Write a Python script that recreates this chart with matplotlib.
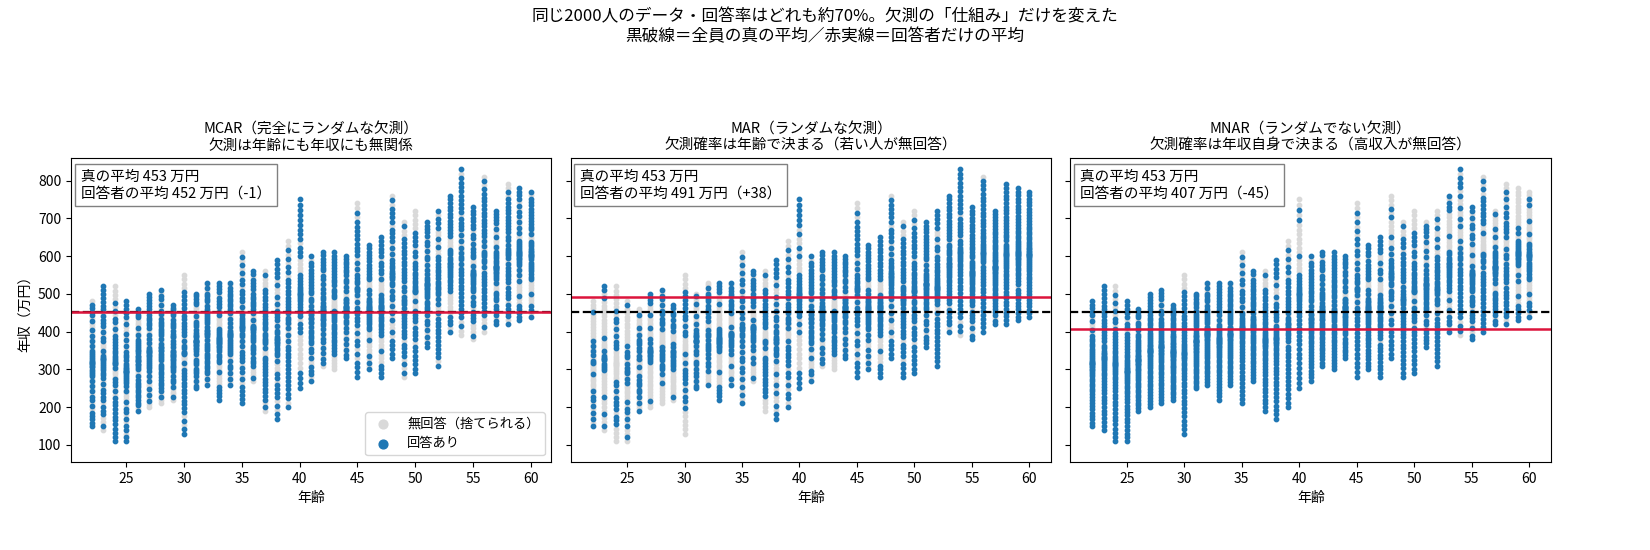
import matplotlib
matplotlib.use('Agg')
import matplotlib.pyplot as plt
import numpy as np

plt.rcParams['font.family'] = ['Noto Sans CJK JP', 'DejaVu Sans']

# ── データ（図から読み取った年齢ごとの年収の下限・上限）──
ages = list(range(22, 61))
income_low = [150, 140, 110, 110, 190, 200, 210, 220, 130, 250, 260, 220, 260, 210,
              270, 190, 170, 200, 250, 270, 310, 300, 330, 280, 300, 280, 330, 280,
              290, 360, 310, 400, 390, 380, 400, 420, 420, 430, 440]
income_high = [480, 520, 520, 480, 460, 500, 510, 470, 550, 500, 530, 530, 530, 610,
               560, 560, 590, 640, 750, 600, 610, 610, 600, 740, 630, 650, 760, 690,
               720, 690, 720, 760, 830, 730, 810, 720, 790, 780, 770]
n_per_age = 51

titles = ['MCAR（完全にランダムな欠測）\n欠測は年齢にも年収にも無関係',
          'MAR（ランダムな欠測）\n欠測確率は年齢で決まる（若い人が無回答）',
          'MNAR（ランダムでない欠測）\n欠測確率は年収自身で決まる（高収入が無回答）']
true_mean = 453
resp_means = [452, 491, 407]
diffs = ['-1', '+38', '-45']

# 点の配置（年齢ごとに下限〜上限へ並べる）
xs, ys, us = [], [], []
t = np.linspace(-1, 1, n_per_age)
t = np.sign(t) * np.abs(t) ** 1.4
for k, (a, lo, hi) in enumerate(zip(ages, income_low, income_high)):
    mid, half = (lo + hi) / 2, (hi - lo) / 2
    order = np.argsort((np.arange(n_per_age) * 0.618034 + k * 0.31) % 1)
    xs += [a] * n_per_age
    ys += list(mid + half * t[order])
    us += list((np.arange(n_per_age) * 0.7548777 + k * 0.5698403) % 1)
xs, ys, us = np.array(xs), np.array(ys), np.array(us)

p_age = 0.3 + 0.7 * (xs - 22) / 38
p_inc = np.clip(1.0 - 0.75 * (ys - 350) / 450, 0.25, 1.0)
observed = [us < 0.7, us < p_age, us < p_inc]

fig, axes = plt.subplots(1, 3, figsize=(16.5, 5.5), dpi=100, sharey=True)
fig.subplots_adjust(left=0.043, right=0.94, top=0.713, bottom=0.16, wspace=0.04)
fig.suptitle('同じ2000人のデータ・回答率はどれも約70%。欠測の「仕組み」だけを変えた\n'
             '黒破線＝全員の真の平均／赤実線＝回答者だけの平均', fontsize=12, y=0.985)

for i, ax in enumerate(axes):
    obs = observed[i]
    ax.scatter(xs[~obs], ys[~obs], s=10, color='#d9d9d9', label='無回答（捨てられる）')
    ax.scatter(xs[obs], ys[obs], s=10, color='#1f77b4', label='回答あり')
    ax.axhline(true_mean, color='black', ls='--', lw=1.6)
    ax.axhline(resp_means[i], color='crimson', lw=1.8)
    ax.set_title(titles[i], fontsize=10.5)
    ax.set_xlabel('年齢', fontsize=10)
    ax.set_xticks([25, 30, 35, 40, 45, 50, 55, 60])
    ax.text(0.02, 0.96, f'真の平均 {true_mean} 万円\n回答者の平均 {resp_means[i]} 万円（{diffs[i]}）',
            transform=ax.transAxes, va='top', fontsize=10.5,
            bbox=dict(boxstyle='square,pad=0.4', facecolor='white', edgecolor='gray'))
axes[0].set_ylabel('年収（万円）', fontsize=10)
axes[0].set_xlim(20.2, 61.8)
axes[0].set_ylim(55, 860)
axes[0].set_yticks(range(100, 900, 100))
axes[0].legend(loc='lower right', markerscale=2, fontsize=9.5)

fig.savefig('out.png', dpi=100)
